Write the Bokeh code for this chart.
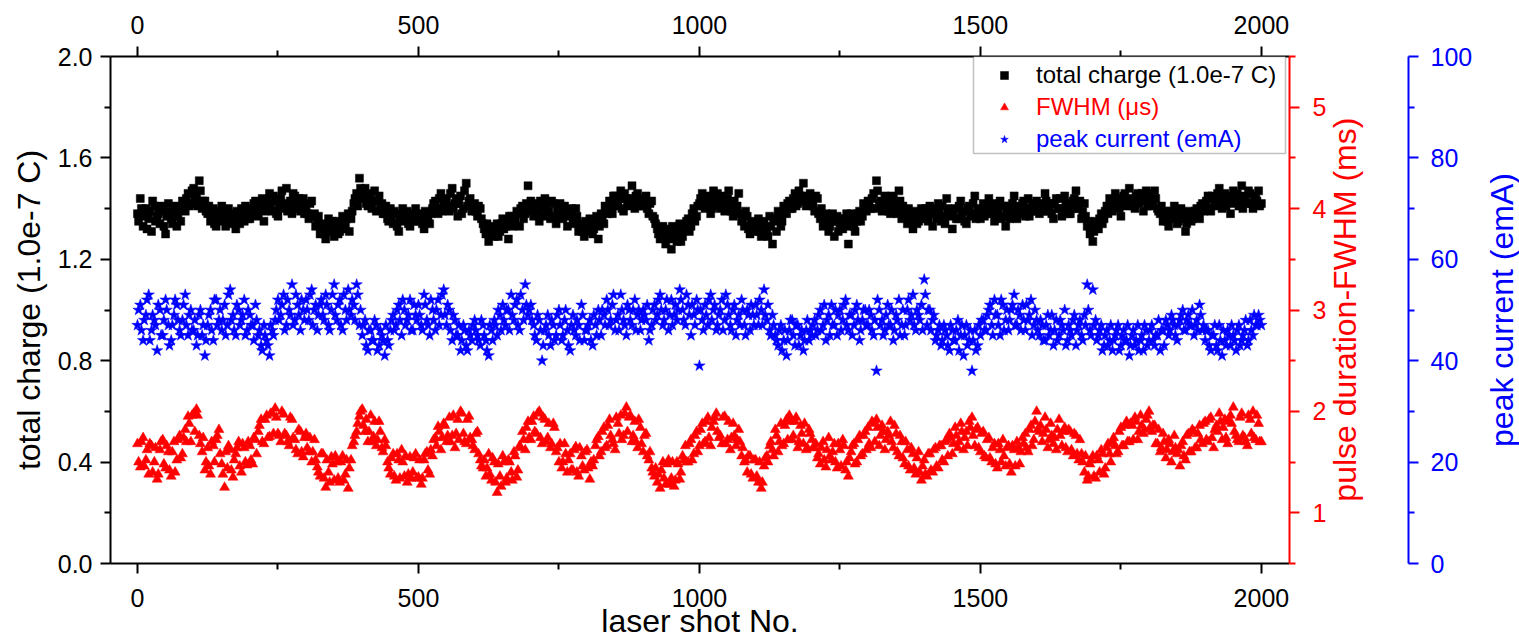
import math
from bokeh.plotting import figure
from bokeh.layouts import row
from bokeh.models import (Range1d, LinearAxis, FixedTicker, Legend, LegendItem,
                          BoxAnnotation, NumeralTickFormatter, Label)
from bokeh.embed import file_html
from bokeh.resources import INLINE

# ---------------- data ----------------
# set A: shots 0, 5, 10, ... 2000 ; set B: shots 2, 7, 12, ... 1997
STEP = 5
OFFSET_B = 2

total_charge_a = [  # 1.0e-7 C
    1.38,1.44,1.33,1.40,1.36,1.31,1.41,1.37,1.34,1.39,1.30,1.42,1.36,1.38,1.33,1.40,1.43,1.39,1.46,1.42,
    1.48,1.44,1.51,1.40,1.43,1.38,1.35,1.40,1.33,1.37,1.41,1.36,1.39,1.34,1.38,1.32,1.37,1.40,1.35,1.38,
    1.36,1.40,1.43,1.38,1.42,1.35,1.41,1.46,1.39,1.43,1.37,1.44,1.40,1.48,1.41,1.38,1.45,1.42,1.39,1.44,
    1.41,1.36,1.43,1.38,1.35,1.30,1.34,1.28,1.36,1.32,1.29,1.35,1.31,1.37,1.33,1.38,1.36,1.42,1.46,1.52,
    1.44,1.48,1.41,1.46,1.43,1.39,1.45,1.42,1.38,1.36,1.40,1.34,1.38,1.31,1.37,1.35,1.39,1.33,1.36,1.40,
    1.35,1.38,1.32,1.37,1.34,1.40,1.43,1.38,1.46,1.41,1.44,1.39,1.48,1.42,1.37,1.45,1.40,1.50,1.43,1.39,
    1.42,1.37,1.40,1.34,1.30,1.27,1.32,1.29,1.34,1.31,1.36,1.33,1.28,1.37,1.35,1.39,1.33,1.41,1.38,1.49,
    1.43,1.37,1.41,1.35,1.40,1.44,1.38,1.36,1.42,1.34,1.39,1.37,1.41,1.33,1.38,1.35,1.40,1.31,1.34,1.29,
    1.33,1.36,1.30,1.35,1.28,1.38,1.34,1.40,1.43,1.38,1.45,1.41,1.47,1.39,1.44,1.42,1.49,1.40,1.46,1.43,
    1.41,1.45,1.38,1.43,1.36,1.32,1.28,1.33,1.26,1.30,1.24,1.31,1.27,1.34,1.29,1.32,1.36,1.33,1.40,1.37,
    1.42,1.46,1.40,1.44,1.38,1.47,1.43,1.41,1.45,1.39,1.44,1.42,1.37,1.40,1.46,1.35,1.33,1.37,1.30,1.34,
    1.32,1.36,1.29,1.34,1.31,1.37,1.26,1.35,1.39,1.33,1.41,1.38,1.43,1.40,1.46,1.42,1.45,1.50,1.41,1.44,
    1.43,1.39,1.44,1.36,1.33,1.38,1.31,1.35,1.29,1.37,1.34,1.32,1.36,1.26,1.38,1.33,1.35,1.39,1.37,1.41,
    1.43,1.40,1.46,1.51,1.42,1.39,1.45,1.41,1.38,1.44,1.40,1.47,1.36,1.39,1.34,1.38,1.32,1.37,1.35,1.40,
    1.38,1.36,1.41,1.33,1.39,1.42,1.35,1.37,1.44,1.38,1.32,1.40,1.36,1.43,1.39,1.34,1.41,1.37,1.45,1.39,
    1.36,1.42,1.38,1.44,1.40,1.35,1.39,1.43,1.37,1.33,1.41,1.38,1.45,1.36,1.40,1.42,1.37,1.44,1.39,1.41,
    1.43,1.38,1.41,1.46,1.39,1.42,1.36,1.44,1.40,1.37,1.45,1.41,1.38,1.43,1.47,1.40,1.36,1.42,1.33,1.30,
    1.27,1.35,1.32,1.38,1.36,1.41,1.44,1.39,1.46,1.42,1.37,1.45,1.41,1.48,1.43,1.40,1.46,1.44,1.39,1.47,
    1.44,1.41,1.47,1.40,1.38,1.35,1.39,1.33,1.37,1.41,1.34,1.38,1.36,1.31,1.39,1.35,1.37,1.40,1.36,1.42,
    1.41,1.45,1.39,1.44,1.42,1.48,1.40,1.46,1.43,1.38,1.47,1.44,1.41,1.49,1.45,1.42,1.46,1.40,1.44,1.47,
    1.42,
]
total_charge_b = [
    1.35,1.40,1.37,1.32,1.39,1.43,1.35,1.38,1.41,1.33,1.37,1.39,1.34,1.41,1.37,1.35,1.40,1.44,1.41,1.47,
    1.45,1.41,1.47,1.43,1.39,1.41,1.37,1.34,1.39,1.35,1.38,1.33,1.40,1.37,1.35,1.39,1.34,1.37,1.41,1.36,
    1.39,1.42,1.37,1.40,1.44,1.39,1.43,1.40,1.45,1.38,1.41,1.47,1.42,1.39,1.43,1.46,1.40,1.44,1.41,1.38,
    1.38,1.42,1.37,1.33,1.37,1.32,1.30,1.33,1.31,1.35,1.33,1.30,1.34,1.32,1.36,1.31,1.39,1.44,1.41,1.48,
    1.46,1.42,1.45,1.40,1.47,1.43,1.40,1.38,1.41,1.35,1.37,1.39,1.33,1.36,1.40,1.37,1.34,1.38,1.35,1.37,
    1.37,1.34,1.39,1.36,1.38,1.42,1.40,1.44,1.39,1.43,1.41,1.46,1.40,1.44,1.42,1.38,1.47,1.41,1.44,1.40,
    1.39,1.41,1.36,1.32,1.34,1.30,1.33,1.31,1.29,1.34,1.32,1.35,1.37,1.33,1.36,1.38,1.40,1.36,1.42,1.39,
    1.40,1.42,1.38,1.43,1.37,1.41,1.39,1.43,1.37,1.40,1.42,1.36,1.39,1.37,1.40,1.34,1.37,1.33,1.31,1.35,
    1.31,1.34,1.32,1.37,1.33,1.36,1.41,1.38,1.41,1.45,1.42,1.44,1.40,1.46,1.41,1.44,1.42,1.45,1.41,1.44,
    1.43,1.40,1.42,1.37,1.34,1.30,1.31,1.29,1.32,1.28,1.33,1.29,1.31,1.27,1.33,1.35,1.31,1.38,1.35,1.41,
    1.44,1.41,1.45,1.42,1.40,1.44,1.46,1.40,1.43,1.41,1.47,1.39,1.43,1.41,1.38,1.36,1.39,1.32,1.35,1.31,
    1.34,1.31,1.35,1.32,1.29,1.33,1.36,1.31,1.37,1.35,1.39,1.42,1.40,1.44,1.41,1.47,1.43,1.45,1.42,1.46,
    1.41,1.45,1.38,1.40,1.35,1.37,1.33,1.38,1.35,1.31,1.36,1.34,1.38,1.33,1.36,1.31,1.38,1.35,1.42,1.39,
    1.41,1.44,1.40,1.47,1.43,1.41,1.43,1.39,1.45,1.42,1.38,1.43,1.41,1.37,1.40,1.35,1.39,1.34,1.38,1.36,
    1.40,1.35,1.38,1.40,1.36,1.39,1.41,1.34,1.40,1.37,1.39,1.36,1.41,1.38,1.35,1.40,1.38,1.42,1.36,1.40,
    1.39,1.37,1.41,1.38,1.42,1.37,1.40,1.36,1.41,1.39,1.36,1.42,1.39,1.41,1.38,1.43,1.40,1.37,1.42,1.39,
    1.40,1.42,1.39,1.43,1.41,1.38,1.42,1.40,1.44,1.39,1.42,1.38,1.41,1.44,1.40,1.43,1.39,1.37,1.35,1.32,
    1.31,1.33,1.36,1.34,1.39,1.38,1.42,1.41,1.44,1.40,1.43,1.46,1.42,1.44,1.41,1.45,1.42,1.46,1.43,1.41,
    1.46,1.42,1.44,1.39,1.41,1.37,1.35,1.39,1.36,1.38,1.35,1.40,1.37,1.34,1.38,1.36,1.39,1.37,1.41,1.39,
    1.43,1.40,1.45,1.41,1.46,1.43,1.44,1.41,1.45,1.42,1.44,1.46,1.43,1.40,1.44,1.47,1.42,1.45,1.43,1.41,
]

fwhm_a = [  # pulse duration FWHM
    1.68,1.45,1.74,1.52,1.38,1.66,1.50,1.33,1.62,1.72,1.44,1.60,1.36,1.70,1.52,1.76,1.58,1.82,1.95,1.70,
    1.98,2.02,1.76,1.60,1.42,1.64,1.38,1.66,1.72,1.82,1.48,1.25,1.44,1.62,1.35,1.58,1.70,1.40,1.64,1.47,
    1.66,1.48,1.72,1.80,1.92,1.68,1.96,1.75,1.98,2.03,1.78,1.70,1.97,1.76,1.66,1.92,1.72,1.58,1.80,1.55,
    1.78,1.60,1.50,1.72,1.45,1.36,1.58,1.25,1.40,1.55,1.32,1.50,1.30,1.56,1.38,1.24,1.52,1.70,1.80,1.95,
    2.02,1.80,1.70,1.96,1.75,1.66,1.90,1.64,1.72,1.50,1.38,1.58,1.32,1.52,1.62,1.36,1.30,1.55,1.40,1.58,
    1.35,1.28,1.52,1.60,1.38,1.56,1.74,1.85,1.62,1.88,1.70,1.94,1.76,1.64,1.92,2.00,1.78,1.68,1.95,1.72,
    1.62,1.80,1.52,1.44,1.36,1.58,1.32,1.50,1.20,1.36,1.56,1.30,1.52,1.40,1.60,1.35,1.66,1.80,1.62,1.90,
    1.72,1.95,1.78,2.00,1.68,1.92,1.74,1.64,1.88,1.60,1.50,1.44,1.68,1.40,1.58,1.42,1.65,1.36,1.56,1.42,
    1.62,1.33,1.46,1.66,1.75,1.60,1.84,1.66,1.92,1.72,1.62,1.88,1.96,1.76,2.04,1.94,1.70,1.90,1.64,1.84,
    1.60,1.78,1.52,1.44,1.36,1.30,1.24,1.50,1.28,1.52,1.34,1.26,1.50,1.33,1.56,1.66,1.50,1.72,1.58,1.80,
    1.66,1.88,1.70,1.94,1.66,1.90,1.98,1.74,1.68,1.95,1.72,1.62,1.88,1.66,1.82,1.56,1.50,1.40,1.56,1.34,
    1.52,1.30,1.24,1.46,1.56,1.66,1.62,1.82,1.60,1.88,1.68,1.92,1.96,1.72,1.90,1.64,1.86,1.68,1.62,1.82,
    1.72,1.64,1.54,1.48,1.70,1.45,1.74,1.52,1.68,1.44,1.62,1.72,1.42,1.36,1.60,1.68,1.50,1.76,1.58,1.80,
    1.84,1.64,1.88,1.92,1.66,1.86,1.62,1.80,1.90,1.64,1.78,1.56,1.70,1.48,1.62,1.42,1.58,1.38,1.60,1.32,
    1.52,1.36,1.58,1.40,1.64,1.44,1.66,1.50,1.72,1.78,1.58,1.84,1.64,1.88,1.62,1.80,1.90,1.94,1.66,1.84,
    1.60,1.80,1.54,1.74,1.50,1.68,1.44,1.62,1.72,1.46,1.66,1.40,1.62,1.70,1.48,1.74,1.78,1.60,1.86,1.72,
    2.00,1.80,1.70,1.94,1.64,1.88,1.68,1.62,1.92,1.66,1.84,1.60,1.80,1.56,1.76,1.52,1.58,1.40,1.32,1.48,
    1.56,1.34,1.52,1.62,1.38,1.64,1.58,1.70,1.66,1.60,1.84,1.66,1.90,1.70,1.86,1.94,1.72,1.96,1.78,1.92,
    2.00,1.80,1.86,1.68,1.60,1.78,1.54,1.72,1.50,1.76,1.58,1.46,1.70,1.52,1.78,1.60,1.80,1.64,1.86,1.68,
    1.90,1.70,1.94,1.64,1.86,1.98,1.72,1.92,1.68,1.96,2.04,1.76,1.70,1.98,1.74,1.66,1.92,2.00,1.72,1.88,
    1.70,
]
fwhm_b = [
    1.50,1.70,1.46,1.62,1.68,1.40,1.64,1.38,1.70,1.48,1.66,1.42,1.60,1.40,1.72,1.54,1.74,1.70,1.88,1.96,
    1.80,1.96,1.68,1.74,1.50,1.46,1.70,1.50,1.76,1.58,1.38,1.60,1.66,1.42,1.52,1.64,1.46,1.68,1.50,1.70,
    1.52,1.74,1.58,1.86,1.70,1.92,1.74,1.98,1.78,1.94,1.76,2.00,1.78,1.70,1.94,1.74,1.62,1.82,1.60,1.74,
    1.64,1.74,1.60,1.52,1.40,1.58,1.34,1.52,1.30,1.48,1.56,1.34,1.50,1.32,1.52,1.44,1.66,1.76,1.88,2.00,
    1.86,1.92,1.80,1.70,1.90,1.72,1.80,1.60,1.66,1.44,1.54,1.36,1.58,1.34,1.50,1.56,1.38,1.34,1.54,1.34,
    1.52,1.34,1.58,1.42,1.62,1.72,1.66,1.80,1.74,1.86,1.76,1.70,1.96,1.78,1.72,1.98,1.70,1.92,1.74,1.66,
    1.78,1.58,1.46,1.52,1.44,1.38,1.54,1.30,1.48,1.26,1.50,1.34,1.50,1.32,1.56,1.42,1.64,1.72,1.84,1.74,
    1.90,1.80,1.98,1.74,1.94,1.70,1.88,1.68,1.84,1.64,1.68,1.50,1.58,1.52,1.42,1.62,1.40,1.64,1.46,1.60,
    1.44,1.50,1.52,1.72,1.56,1.80,1.64,1.86,1.76,1.68,1.94,1.78,1.72,1.98,1.80,1.96,1.76,1.70,1.92,1.68,
    1.76,1.56,1.60,1.40,1.44,1.38,1.42,1.34,1.48,1.28,1.50,1.32,1.48,1.40,1.52,1.50,1.68,1.52,1.76,1.60,
    1.82,1.68,1.90,1.74,1.84,1.94,1.80,1.76,1.94,1.68,1.90,1.74,1.76,1.72,1.70,1.64,1.52,1.56,1.38,1.52,
    1.36,1.50,1.30,1.54,1.50,1.70,1.56,1.76,1.70,1.66,1.86,1.72,1.90,1.76,1.94,1.70,1.78,1.88,1.64,1.78,
    1.64,1.68,1.58,1.64,1.52,1.62,1.56,1.60,1.50,1.68,1.46,1.66,1.50,1.54,1.66,1.48,1.72,1.56,1.76,1.62,
    1.68,1.90,1.70,1.84,1.76,1.80,1.72,1.76,1.70,1.86,1.60,1.76,1.54,1.70,1.46,1.64,1.44,1.54,1.40,1.46,
    1.38,1.58,1.42,1.62,1.46,1.66,1.52,1.70,1.56,1.74,1.68,1.76,1.70,1.80,1.74,1.66,1.84,1.76,1.82,1.64,
    1.78,1.56,1.72,1.54,1.64,1.48,1.68,1.50,1.56,1.64,1.48,1.66,1.46,1.64,1.60,1.68,1.64,1.82,1.66,1.90,
    1.82,1.86,1.78,1.82,1.72,1.76,1.74,1.82,1.76,1.80,1.64,1.82,1.62,1.78,1.58,1.72,1.50,1.56,1.36,1.52,
    1.36,1.56,1.40,1.58,1.44,1.68,1.50,1.74,1.58,1.80,1.66,1.86,1.70,1.88,1.72,1.90,1.80,1.86,1.82,1.96,
    1.84,1.86,1.68,1.82,1.64,1.70,1.62,1.68,1.60,1.64,1.62,1.66,1.56,1.76,1.60,1.82,1.64,1.78,1.72,1.88,
    1.72,1.92,1.74,1.82,1.80,1.90,1.84,1.74,1.90,1.88,1.80,1.72,1.94,1.76,1.70,1.96,1.78,1.74,1.96,1.70,
]

peak_current_a = [  # emA
    47,51,44,49,53,46,48,42,50,45,52,47,44,49,51,46,48,53,45,50,
    46,43,49,45,41,47,50,44,52,48,46,51,47,54,49,45,50,48,52,46,
    49,47,51,45,43,47,44,41,46,48,52,49,53,47,50,55,48,51,46,50,
    52,48,54,50,46,51,49,53,47,50,55,48,52,46,50,54,49,51,55,47,
    45,48,42,46,44,47,43,45,41,44,46,49,47,51,45,50,48,52,46,49,
    51,47,53,48,45,50,46,52,49,54,47,50,44,48,45,42,47,43,46,44,
    48,45,43,47,44,41,46,48,45,49,51,47,50,53,48,52,46,50,55,49,
    51,47,44,48,40,46,49,43,47,45,50,44,48,46,42,49,45,47,51,44,
    46,48,43,47,50,45,49,52,47,51,46,49,53,48,45,50,47,52,49,46,
    50,48,44,47,51,49,53,47,50,46,52,49,48,54,50,47,51,45,49,52,
    39,48,51,47,53,50,46,49,52,48,51,47,50,45,49,52,47,50,46,49,
    51,47,50,54,48,46,49,45,43,47,44,41,46,48,43,47,45,42,46,44,
    45,48,46,50,47,44,49,51,47,45,50,48,52,46,49,47,51,44,48,50,
    47,49,45,38,50,48,46,51,47,44,49,52,47,45,50,48,53,46,49,51,
    56,47,50,48,44,46,43,47,45,42,46,44,48,45,41,47,44,38,46,43,
    45,48,46,50,47,52,49,45,51,48,46,50,53,47,49,51,46,48,52,47,
    48,45,47,44,49,46,43,48,45,47,50,44,46,48,43,47,45,49,55,46,
    54,48,45,47,43,46,44,42,45,47,43,46,44,41,45,43,47,44,42,46,
    44,47,43,45,42,46,48,45,49,47,44,48,50,46,49,47,45,48,51,46,
    44,46,42,45,43,47,41,44,46,43,45,42,47,44,46,43,48,45,47,49,
    47,
]
peak_current_b = [
    50,46,48,52,44,49,47,51,45,48,50,43,47,52,48,45,51,47,49,46,
    48,45,50,47,44,49,46,52,47,50,48,45,53,48,46,51,47,49,45,50,
    47,44,48,46,42,45,43,47,45,50,48,51,46,52,49,47,53,49,52,48,
    50,53,47,51,49,52,48,51,46,53,49,51,47,53,48,50,52,48,53,50,
    47,43,46,44,48,42,46,44,47,43,48,46,50,48,52,47,49,46,51,48,
    49,46,51,47,52,48,50,47,53,49,51,46,49,45,47,44,46,42,45,47,
    46,44,48,45,42,47,44,47,50,46,48,50,46,49,51,47,53,48,51,50,
    48,45,49,46,43,47,45,48,44,49,47,45,50,43,47,46,48,44,49,46,
    47,44,49,45,48,50,47,50,48,53,48,46,50,47,51,48,50,46,50,48,
    49,51,46,50,48,52,50,48,52,49,47,51,50,52,48,53,49,51,47,50,
    50,46,49,52,48,51,47,50,46,53,49,46,51,48,47,50,45,49,51,47,
    49,52,47,49,51,45,47,44,46,42,46,44,48,45,47,43,46,44,48,46,
    47,45,49,46,51,48,45,47,50,49,46,51,47,49,45,50,48,46,50,47,
    50,46,48,52,47,45,49,47,50,46,48,45,50,47,52,49,47,50,48,46,
    53,50,46,49,45,47,44,46,43,47,44,46,42,47,45,43,46,44,42,47,
    48,46,49,51,45,49,47,52,46,50,48,51,47,50,46,48,51,49,45,50,
    46,48,44,47,45,49,46,44,48,46,43,47,45,49,46,48,44,47,50,45,
    47,44,46,42,45,43,47,44,46,42,45,44,47,43,46,44,42,45,47,43,
    46,44,45,48,46,43,47,46,48,45,47,49,46,48,47,50,47,46,49,47,
    46,43,45,47,42,44,46,43,45,47,44,46,43,45,48,44,46,49,47,48,
]

x_ticks = [0, 500, 1000, 1500, 2000]
x_minor = [250, 750, 1250, 1750]
left_ticks = [0.0, 0.4, 0.8, 1.2, 1.6, 2.0]
left_minor = [0.2, 0.6, 1.0, 1.4, 1.8]
red_ticks = [1, 2, 3, 4, 5]
red_minor = [0.5, 1.5, 2.5, 3.5, 4.5, 5.5]
blue_ticks = [0, 20, 40, 60, 80, 100]
blue_minor = [10, 30, 50, 70, 90]

legend_labels = ["total charge (1.0e-7 C)", "FWHM (\u03bcs)", "peak current (emA)"]
x_title = "laser shot No."
left_title = "total charge (1.0e-7 C)"
red_title = "pulse duration-FWHM (ms)"
blue_title = "peak current (emA)"


def shots(series, offset):
    return [offset + STEP * i for i in range(len(series))]


shots_c = shots(total_charge_a, 0) + shots(total_charge_b, OFFSET_B)
vals_c = total_charge_a + total_charge_b
shots_f = shots(fwhm_a, 0) + shots(fwhm_b, OFFSET_B)
vals_f = fwhm_a + fwhm_b
shots_p = shots(peak_current_a, 0) + shots(peak_current_b, OFFSET_B)
vals_p = peak_current_a + peak_current_b

# ---------------- main figure ----------------
FONT = "Liberation Sans"
BLACK, RED, BLUE = "#000000", "#FF0000", "#0000FF"
RED_RANGE = (0.5, 5.5)
# red title drawn as a rotated tick label that starts (reading upwards) at this red-axis value
RED_TITLE_START = 1.11
TOP_B, BOT_B, H = 56, 79, 642

p = figure(width=1483, height=H, output_backend="svg", toolbar_location=None,
           x_range=Range1d(-48, 2050), y_range=Range1d(0, 2.0),
           x_axis_location=None, y_axis_location=None,
           min_border_left=110, min_border_right=194,
           min_border_top=TOP_B, min_border_bottom=BOT_B)
p.extra_y_ranges = {"red": Range1d(*RED_RANGE), "blue": Range1d(0, 100)}
p.outline_line_color = None
p.xgrid.visible = False
p.ygrid.visible = False
p.background_fill_color = "white"
p.border_fill_color = "white"


def style(ax, color, lab_standoff, title_standoff):
    ax.axis_line_color = color
    ax.axis_line_width = 2
    ax.major_tick_line_color = color
    ax.minor_tick_line_color = color
    ax.major_tick_line_width = 2
    ax.minor_tick_line_width = 2
    ax.major_tick_in = 0
    ax.major_tick_out = 10
    ax.minor_tick_in = 0
    ax.minor_tick_out = 6
    ax.major_label_text_color = color
    ax.major_label_text_font = FONT
    ax.major_label_text_font_size = "25px"
    ax.major_label_standoff = lab_standoff
    ax.axis_label_text_color = color
    ax.axis_label_text_font = FONT
    ax.axis_label_text_font_size = "32px"
    ax.axis_label_text_font_style = "normal"
    ax.axis_label_standoff = title_standoff


bottom = LinearAxis(ticker=FixedTicker(ticks=x_ticks, minor_ticks=x_minor),
                    axis_label=x_title)
style(bottom, BLACK, 15, -7)
top = LinearAxis(ticker=FixedTicker(ticks=x_ticks, minor_ticks=x_minor))
style(top, BLACK, 13, 0)
left = LinearAxis(ticker=FixedTicker(ticks=left_ticks, minor_ticks=left_minor),
                  formatter=NumeralTickFormatter(format="0.0"),
                  axis_label=left_title)
style(left, BLACK, 8, 8)

red_ax = LinearAxis(y_range_name="red",
                    ticker=FixedTicker(ticks=red_ticks, minor_ticks=red_minor))
style(red_ax, RED, 13, 0)

# red axis title: a single rotated label, reading bottom-to-top
red_title_ax = LinearAxis(y_range_name="red",
                          ticker=FixedTicker(ticks=[RED_TITLE_START], minor_ticks=[]),
                          major_label_overrides={RED_TITLE_START: red_title},
                          major_label_orientation=math.pi / 2,
                          major_label_standoff=16,
                          major_label_text_font=FONT,
                          major_label_text_font_size="32px",
                          major_label_text_color=RED,
                          axis_line_color=None, major_tick_line_color=None,
                          minor_tick_line_color=None,
                          major_tick_out=0, major_tick_in=0,
                          minor_tick_out=0, minor_tick_in=0)

# empty gap between the red title and the blue axis
spacer = LinearAxis(y_range_name="red",
                    ticker=FixedTicker(ticks=[3.0], minor_ticks=[]),
                    axis_line_color=None, major_tick_line_color="white",
                    major_tick_line_width=1,
                    minor_tick_line_color=None, major_label_text_color=None,
                    major_tick_out=24, major_tick_in=0,
                    minor_tick_out=0, minor_tick_in=0)

blue_ax = LinearAxis(y_range_name="blue",
                     ticker=FixedTicker(ticks=blue_ticks, minor_ticks=blue_minor))
style(blue_ax, BLUE, 12, 0)

p.add_layout(bottom, "below")
p.add_layout(top, "above")
p.add_layout(left, "left")
p.add_layout(red_ax, "right")
p.add_layout(red_title_ax, "right")
p.add_layout(spacer, "right")
p.add_layout(blue_ax, "right")

# ---------------- data glyphs ----------------
r_c = p.scatter(shots_c, vals_c, marker="square", size=8,
                fill_color=BLACK, line_color=BLACK, line_width=0.5)
r_p = p.scatter(shots_p, vals_p, marker="star", size=12, y_range_name="blue",
                fill_color=BLUE, line_color=BLUE, line_width=0.5)
r_f = p.scatter(shots_f, vals_f, marker="triangle", size=10, y_range_name="red",
                fill_color=RED, line_color=RED, line_width=0.5)

# ---------------- legend ----------------
box = BoxAnnotation(left=863, right=1175, bottom=410, top=507,
                    left_units="screen", right_units="screen",
                    top_units="screen", bottom_units="screen",
                    fill_color="white", fill_alpha=1.0,
                    line_color="#333333", line_width=1.5)
p.add_layout(box)

legend_rows = [(legend_labels[0], r_c, BLACK, 474),
               (legend_labels[1], r_f, RED, 442),
               (legend_labels[2], r_p, BLUE, 410)]
for text, rend, col, ybot in legend_rows:
    lg = Legend(items=[LegendItem(label=text, renderers=[rend])],
                location=(864, ybot), padding=2, margin=0, spacing=0,
                glyph_width=60, glyph_height=20, label_standoff=2,
                label_text_font=FONT, label_text_font_size="24px",
                label_text_color=col, border_line_color=None,
                background_fill_alpha=0.0)
    p.add_layout(lg)

# ---------------- narrow strip holding the blue axis title ----------------
p2 = figure(width=36, height=H, output_backend="svg", toolbar_location=None,
            x_range=Range1d(0, 1), y_range=Range1d(0, 100),
            x_axis_location=None, y_axis_location=None,
            min_border_left=0, min_border_right=0,
            min_border_top=TOP_B, min_border_bottom=BOT_B)
p2.outline_line_color = None
p2.xgrid.visible = False
p2.ygrid.visible = False
p2.add_layout(Label(x=0.5, y=50, text=blue_title, angle=math.pi / 2,
                    text_font=FONT, text_font_size="32px", text_color=BLUE,
                    text_align="center", text_baseline="middle"))

layout = row(p, p2, spacing=0)
open("out.html", "w").write(file_html(layout, INLINE))
